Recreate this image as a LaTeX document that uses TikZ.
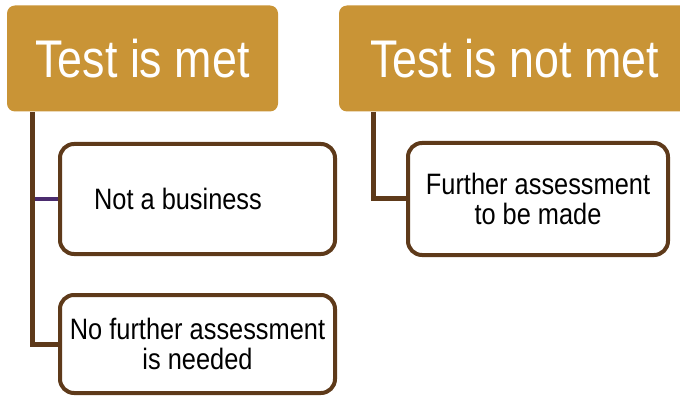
\documentclass[tikz,border=0pt]{standalone}
\usepackage{fontspec}
\setmainfont{Liberation Sans}
\newfontfamily\narrowfont[FakeStretch=0.845]{Liberation Sans}
\newfontfamily\childfont[FakeStretch=0.86]{Liberation Sans}
\definecolor{gold}{RGB}{201,148,54}
\definecolor{brownline}{RGB}{94,58,26}
\definecolor{purpleline}{RGB}{75,44,110}
\begin{document}
\begin{tikzpicture}[x=1pt,y=-1pt,
  header/.style={draw=none,fill=gold,rounded corners=8pt,text=white,
    font=\narrowfont\fontsize{53}{60}\selectfont,inner sep=0pt},
  child/.style={draw=brownline,line width=4pt,fill=white,rounded corners=14pt,
    text=black,align=center,font=\childfont\fontsize{29.5}{30}\selectfont,inner sep=0pt},
  conn/.style={draw=brownline,line width=5pt},
  pconn/.style={draw=purpleline,line width=4pt}]
\useasboundingbox (0,0) rectangle (680,398);
\begin{scope}
\clip (0,0) rectangle (680,398);
\node[header,minimum width=271pt,minimum height=106pt] (h1) at (142.5,58.5) {Test is met};
\node[header,minimum width=351pt,minimum height=106pt] (h2) at (514.5,58.5) {Test is not met};
\coordinate (s1) at (32.5,112);
\coordinate (s2) at (373,112);
\coordinate (p1) at (35,199);
\node[child,minimum width=275pt,minimum height=110pt] (c1) at (197.5,199) {Not a business\hspace{39pt}};
\node[child,minimum width=275pt,minimum height=98pt] (c2) at (197.5,344) {No further assessment\\is needed};
\node[child,minimum width=260pt,minimum height=112pt] (c3) at (538,199) {Further assessment\\to be made};
\draw[conn] (s1) |- (c2.west);
\draw[pconn] (p1) -- (c1.west);
\draw[conn] (s2) |- (c3.west);
\end{scope}
\end{tikzpicture}
\end{document}
